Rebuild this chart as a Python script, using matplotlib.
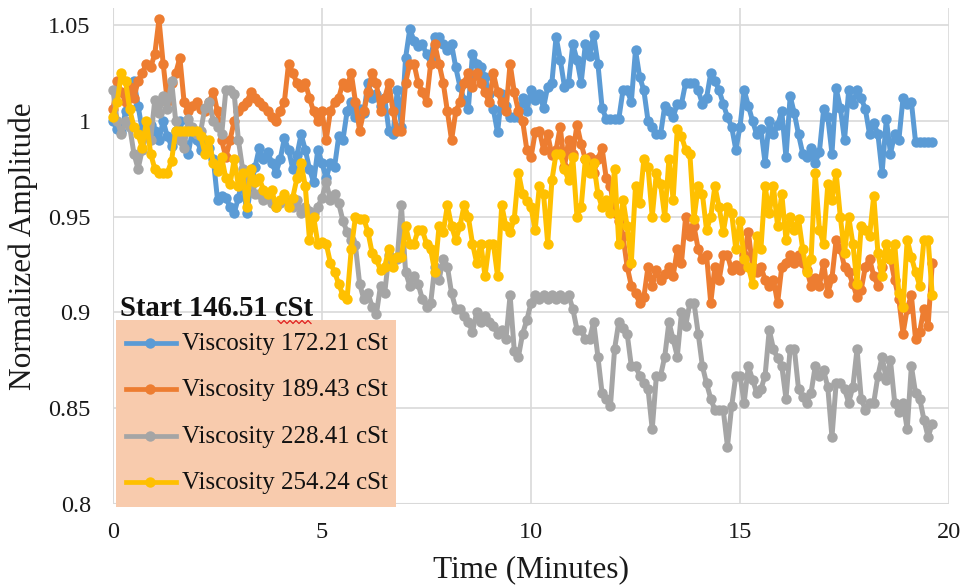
import numpy as np
import matplotlib
matplotlib.use("Agg")
import matplotlib.pyplot as plt
from matplotlib.patches import Rectangle
from matplotlib.lines import Line2D

plt.rcParams['font.family'] = ['Liberation Serif', 'DejaVu Serif']

# Sampling grid (minutes)
time_min = np.round(np.arange(0, 19.65, 0.1), 1)

visc_172 = [1.000, 0.996, 0.994, 1.005, 1.014, 1.021, 1.008, 0.995, 0.992, 0.998,
            0.995, 0.990, 1.000, 0.992, 0.987, 0.995, 1.000, 0.988, 0.983, 0.995,
            0.990, 0.985, 0.990, 0.986, 0.980, 0.959, 0.961, 0.960, 0.955, 0.952,
            0.960, 0.970, 0.952, 0.966, 0.976, 0.986, 0.980, 0.984, 0.978, 0.973,
            0.980, 0.991, 0.985, 0.975, 0.982, 0.993, 0.985, 0.975, 0.968, 0.985,
            0.978, 0.970, 0.978, 0.976, 0.992, 0.990, 1.005, 1.010, 1.002, 1.006,
            1.004, 1.020, 1.012, 1.014, 1.008, 1.012, 0.995, 0.993, 1.016, 0.997,
            1.033, 1.048, 1.042, 1.039, 1.040, 1.035, 1.033, 1.044, 1.044, 1.040,
            1.037, 1.040, 1.028, 1.018, 1.011, 1.006, 1.035, 1.030, 1.028, 1.023,
            1.014, 1.006, 0.994, 1.014, 1.008, 1.002, 1.002, 1.002, 1.012, 1.005,
            1.016, 1.011, 1.014, 1.007, 1.018, 1.020, 1.044, 1.032, 1.018, 1.020,
            1.040, 1.032, 1.020, 1.040, 1.034, 1.045, 1.030, 1.007, 1.001, 1.001,
            1.001, 1.001, 1.016, 1.016, 1.010, 1.037, 1.023, 1.016, 1.000, 0.997,
            0.993, 0.993, 1.008, 1.005, 1.002, 1.009, 1.009, 1.020, 1.020, 1.020,
            1.016, 1.009, 1.012, 1.025, 1.021, 1.016, 1.009, 1.002, 0.997, 0.985,
            0.997, 1.016, 1.008, 1.000, 0.993, 0.996, 0.978, 1.000, 0.993, 0.998,
            1.005, 0.981, 1.013, 1.004, 0.993, 0.983, 0.981, 0.986, 0.978, 0.984,
            1.006, 1.002, 0.983, 1.017, 1.007, 0.990, 1.016, 1.009, 1.016, 1.012,
            1.006, 0.993, 0.999, 0.993, 0.973, 1.001, 0.983, 0.993, 0.990, 1.012,
            1.009, 1.010, 0.989, 0.989, 0.989, 0.989, 0.989]

visc_189 = [1.006, 1.021, 1.015, 1.010, 1.018, 1.012, 1.021, 1.025, 1.030, 1.028,
            1.035, 1.053, 1.030, 1.010, 1.020, 1.025, 1.033, 1.010, 1.005, 1.008,
            1.010, 1.006, 1.005, 1.010, 1.015, 1.005, 0.990, 0.981, 0.990, 1.000,
            1.005, 1.008, 1.010, 1.015, 1.012, 1.010, 1.008, 1.005, 1.002, 1.000,
            1.005, 1.010, 1.030, 1.025, 1.020, 1.018, 1.020, 1.012, 1.005, 1.000,
            1.005, 0.990, 1.005, 1.010, 1.012, 1.020, 1.018, 1.025, 1.010, 0.995,
            1.005, 1.015, 1.025, 1.020, 1.005, 1.012, 1.020, 1.005, 0.995, 0.995,
            1.020, 1.030, 1.030, 1.020, 1.015, 1.010, 1.030, 1.040, 1.030, 1.020,
            1.005, 0.990, 1.005, 1.010, 1.020, 1.025, 1.018, 1.025, 1.020, 1.015,
            1.010, 1.025, 1.015, 1.010, 1.005, 1.030, 1.015, 1.005, 1.000, 0.985,
            0.981, 0.994, 0.995, 0.985, 0.993, 0.982, 0.985, 0.997, 0.976, 0.990,
            0.983, 0.998, 0.988, 0.980, 0.981, 0.973, 0.980, 0.986, 0.970, 0.966,
            0.952, 0.948, 0.940, 0.924, 0.914, 0.910, 0.905, 0.908, 0.924, 0.914,
            0.922, 0.917, 0.920, 0.924, 0.919, 0.933, 0.926, 0.950, 0.940, 0.945,
            0.933, 0.928, 0.930, 0.905, 0.924, 0.917, 0.930, 0.930, 0.922, 0.925,
            0.922, 0.930, 0.942, 0.924, 0.921, 0.924, 0.917, 0.914, 0.917, 0.905,
            0.924, 0.926, 0.930, 0.926, 0.930, 0.926, 0.922, 0.914, 0.918, 0.914,
            0.926, 0.910, 0.918, 0.938, 0.933, 0.924, 0.921, 0.915, 0.908, 0.912,
            0.924, 0.928, 0.919, 0.914, 0.924, 0.930, 0.928, 0.917, 0.907, 0.889,
            0.902, 0.909, 0.886, 0.890, 0.902, 0.893, 0.926]

visc_228 = [1.016, 1.000, 0.993, 1.000, 0.997, 0.983, 0.975, 0.985, 0.993, 0.990,
            1.011, 1.004, 1.013, 1.006, 1.021, 1.000, 0.990, 0.986, 1.001, 0.997,
            0.993, 0.995, 1.007, 1.010, 1.000, 0.997, 0.993, 1.016, 1.016, 1.014,
            0.990, 0.975, 0.969, 0.969, 0.962, 0.962, 0.959, 0.960, 0.957, 0.955,
            0.957, 0.959, 0.957, 0.955, 0.959, 0.952, 0.955, 0.953, 0.952, 0.955,
            0.960, 0.968, 0.959, 0.962, 0.957, 0.948, 0.942, 0.938, 0.935, 0.915,
            0.907, 0.910, 0.903, 0.899, 0.914, 0.910, 0.930, 0.928, 0.928, 0.956,
            0.921, 0.914, 0.919, 0.915, 0.907, 0.903, 0.905, 0.924, 0.917, 0.928,
            0.924, 0.910, 0.902, 0.902, 0.898, 0.895, 0.890, 0.900, 0.895, 0.898,
            0.895, 0.893, 0.889, 0.891, 0.886, 0.909, 0.880, 0.877, 0.889, 0.896,
            0.905, 0.909, 0.907, 0.909, 0.907, 0.909, 0.907, 0.909, 0.907, 0.909,
            0.902, 0.891, 0.891, 0.886, 0.886, 0.895, 0.877, 0.858, 0.855, 0.851,
            0.881, 0.895, 0.892, 0.889, 0.872, 0.872, 0.867, 0.863, 0.860, 0.839,
            0.867, 0.867, 0.877, 0.895, 0.886, 0.877, 0.900, 0.893, 0.905, 0.905,
            0.889, 0.872, 0.863, 0.855, 0.849, 0.849, 0.849, 0.830, 0.851, 0.867,
            0.867, 0.853, 0.872, 0.865, 0.858, 0.860, 0.867, 0.891, 0.881, 0.876,
            0.872, 0.855, 0.881, 0.881, 0.860, 0.856, 0.853, 0.858, 0.872, 0.867,
            0.870, 0.861, 0.835, 0.863, 0.863, 0.860, 0.853, 0.861, 0.881, 0.855,
            0.849, 0.853, 0.853, 0.867, 0.877, 0.865, 0.875, 0.853, 0.848, 0.853,
            0.839, 0.872, 0.858, 0.855, 0.844, 0.835, 0.842]

visc_254 = [1.002, 1.010, 1.025, 1.021, 1.006, 0.997, 0.993, 0.986, 1.000, 0.983,
            0.975, 0.973, 0.973, 0.973, 0.979, 0.995, 0.995, 0.995, 0.995, 0.995,
            0.995, 0.992, 0.983, 0.990, 0.978, 0.974, 0.981, 0.970, 0.967, 0.980,
            0.966, 0.973, 0.955, 0.975, 0.968, 0.970, 0.964, 0.962, 0.964, 0.955,
            0.959, 0.962, 0.955, 0.960, 0.970, 0.978, 0.966, 0.938, 0.950, 0.936,
            0.937, 0.936, 0.926, 0.921, 0.915, 0.909, 0.907, 0.933, 0.950, 0.949,
            0.949, 0.942, 0.931, 0.928, 0.922, 0.924, 0.933, 0.924, 0.929, 0.929,
            0.945, 0.936, 0.936, 0.943, 0.943, 0.936, 0.933, 0.921, 0.945, 0.942,
            0.956, 0.945, 0.938, 0.945, 0.956, 0.950, 0.936, 0.926, 0.936, 0.919,
            0.936, 0.936, 0.919, 0.956, 0.945, 0.942, 0.949, 0.973, 0.962, 0.958,
            0.955, 0.943, 0.966, 0.962, 0.936, 0.969, 0.983, 0.983, 0.975, 0.969,
            0.981, 0.950, 0.955, 0.980, 0.973, 0.978, 0.962, 0.955, 0.959, 0.952,
            0.975, 0.936, 0.959, 0.945, 0.926, 0.966, 0.957, 0.980, 0.976, 0.950,
            0.973, 0.967, 0.950, 0.980, 0.959, 0.996, 0.992, 0.985, 0.983, 0.949,
            0.966, 0.962, 0.943, 0.950, 0.966, 0.955, 0.942, 0.955, 0.952, 0.933,
            0.948, 0.928, 0.924, 0.915, 0.940, 0.933, 0.966, 0.952, 0.966, 0.945,
            0.962, 0.938, 0.950, 0.943, 0.949, 0.933, 0.921, 0.928, 0.973, 0.943,
            0.936, 0.967, 0.959, 0.973, 0.950, 0.931, 0.950, 0.936, 0.915, 0.945,
            0.943, 0.940, 0.961, 0.931, 0.919, 0.936, 0.928, 0.936, 0.910, 0.903,
            0.938, 0.929, 0.921, 0.914, 0.938, 0.938, 0.909]

series_labels = ["Viscosity 172.21 cSt", "Viscosity 189.43 cSt",
                 "Viscosity 228.41 cSt", "Viscosity 254.24 cSt"]
series_colors = ["#5B9BD5", "#ED7D31", "#A5A5A5", "#FFC000"]
legend_title = "Start 146.51 cSt"

x_ticks = [0, 5, 10, 15, 20]
y_ticks = [0.8, 0.85, 0.9, 0.95, 1.0, 1.05]
y_tick_labels = ["0.8", "0.85", "0.9", "0.95", "1", "1.05"]

W, H = 966, 588
fig = plt.figure(figsize=(W / 100, H / 100), dpi=100)


def fx(px):
    return px / W


def fy(py):
    return 1 - py / H


ax = fig.add_axes([fx(113), fy(504), fx(949) - fx(113), fy(8) - fy(504)])
ax.set_xlim(0, 20)
ax.set_ylim(0.8, 1.059)

grid_c = "#D9D9D9"
ax.set_axisbelow(True)
ax.grid(True, color=grid_c, linewidth=1.2)
for s in ax.spines.values():
    s.set_visible(False)
ax.axvline(0, color=grid_c, linewidth=1.5, zorder=0.5)
ax.axhline(0.8, color=grid_c, linewidth=1.5, zorder=0.5)

ax.set_xticks(x_ticks)
ax.set_yticks(y_ticks)
ax.set_yticklabels(y_tick_labels)
ax.tick_params(axis='both', length=0, labelsize=17.5, colors="#1a1a1a")
ax.tick_params(axis='x', pad=13)
ax.tick_params(axis='y', pad=16)

all_series = [visc_172, visc_189, visc_228, visc_254]
for vals, col, lab in zip(all_series, series_colors, series_labels):
    ax.plot(time_min, vals, color=col, linewidth=3.6, marker='o',
            markersize=7.5, markeredgewidth=0, label=lab, clip_on=False)

ax.set_xlabel("Time (Minutes)", fontsize=22.5, color="#1a1a1a")
ax.set_ylabel("Normalized Amplitude", fontsize=22.5, color="#1a1a1a")
ax.xaxis.set_label_coords(0.5 * (fx(113) + fx(949)), fy(555), transform=fig.transFigure)
ax.yaxis.set_label_coords(fx(38), fy(246), transform=fig.transFigure)

# Legend panel
box = Rectangle((fx(116), fy(507)), fx(396) - fx(116), fy(320) - fy(507),
                transform=fig.transFigure, facecolor="#F8CBAD", edgecolor="none",
                zorder=5)
fig.patches.append(box)

fig.text(fx(120), fy(316), legend_title, fontsize=20.6, fontweight='bold',
         ha='left', va='baseline', color="#111111", zorder=6)

# spell-check style squiggle under "cSt"
sq_x = np.arange(278, 314, 3.0)
sq_y = np.where(np.arange(len(sq_x)) % 2 == 0, 320.5, 323.5)
fig.lines.append(Line2D(fx(sq_x), fy(sq_y), transform=fig.transFigure,
                        color="#E02020", linewidth=0.9, zorder=7))

row_base = [350, 396, 442.5, 489]
for lab, col, yb in zip(series_labels, series_colors, row_base):
    yc = yb - 7
    fig.lines.append(Line2D([fx(126), fx(176)], [fy(yc), fy(yc)],
                            transform=fig.transFigure, color=col, linewidth=3.4,
                            zorder=6))
    fig.lines.append(Line2D([fx(150)], [fy(yc)], transform=fig.transFigure,
                            color=col, marker='o', markersize=7.5,
                            markeredgewidth=0, zorder=7))
    fig.text(fx(182), fy(yb), lab, fontsize=18, ha='left', va='baseline',
             color="#111111", zorder=7)

fig.savefig("out.png", dpi=100)
